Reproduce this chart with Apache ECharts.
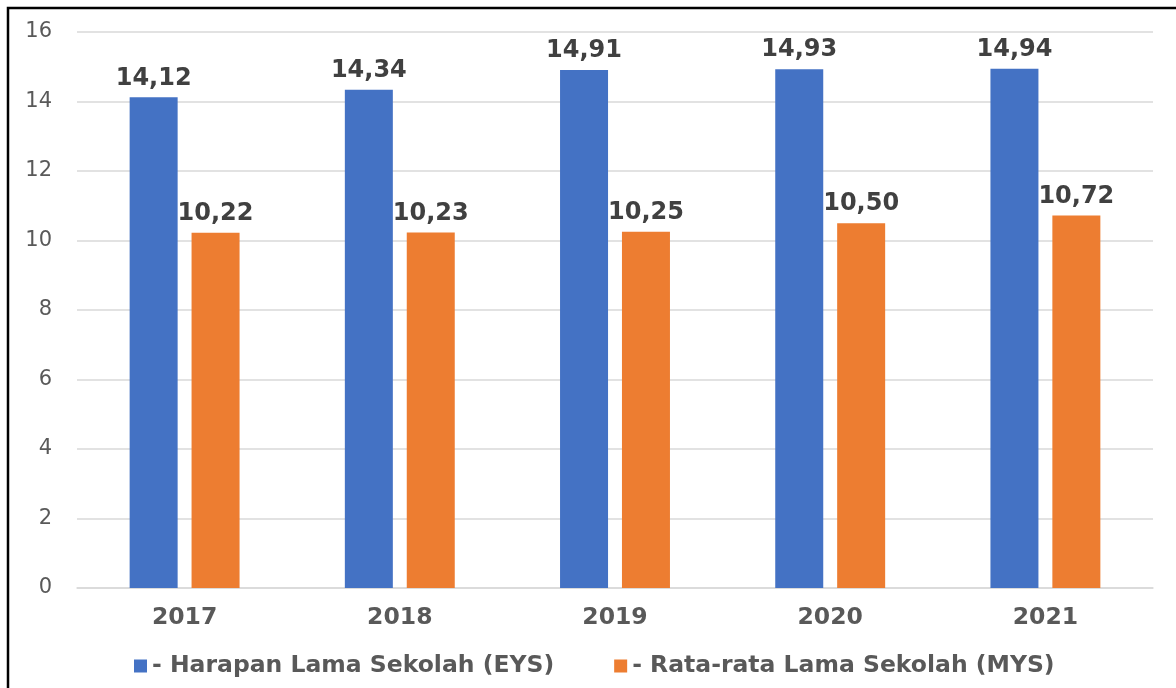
<!DOCTYPE html>
<html>
<head>
<meta charset="utf-8">
<script src="https://cdn.jsdelivr.net/npm/echarts@6/dist/echarts.min.js"></script>
<style>
  html, body { margin: 0; padding: 0; background: #fff; }
  #chart { width: 1176px; height: 688px; }
</style>
</head>
<body>
<div id="chart"></div>
<script>
const years = ['2017', '2018', '2019', '2020', '2021'];
const eys = [14.12, 14.34, 14.91, 14.93, 14.94];
const mys = [10.22, 10.23, 10.25, 10.50, 10.72];
const seriesNames = ['- Harapan Lama Sekolah (EYS)', '- Rata-rata Lama Sekolah (MYS)'];

const chart = echarts.init(document.getElementById('chart'));

// angka pakai koma desimal
const fmt = p => p.value.toFixed(2).replace('.', ',');

const labelStyle = {
    show: true,
    position: 'top',
    distance: 7,
    formatter: fmt,
    fontFamily: 'DejaVu Sans',
    fontWeight: 'bold',
    fontSize: 24,
    color: '#404040'
};

const option = {
    backgroundColor: '#fff',
    animation: false,
    textStyle: { fontFamily: 'DejaVu Sans' },
    graphic: [{
        type: 'rect',
        shape: { x: 8, y: 8, width: 1200, height: 700 },
        style: { fill: 'none', stroke: '#000', lineWidth: 2.5 }
    }],
    grid: { left: 77, right: 23, top: 32, bottom: 100 },
    legend: {
        left: 129,
        top: 649,
        itemWidth: 13,
        itemHeight: 13,
        itemGap: 60,
        icon: 'rect',
        textStyle: {
            fontFamily: 'DejaVu Sans',
            fontWeight: 'bold',
            fontSize: 23.5,
            color: '#595959'
        },
        data: seriesNames
    },
    xAxis: {
        type: 'category',
        data: years,
        axisTick: { show: false },
        axisLine: { lineStyle: { color: '#d9d9d9', width: 1.5 } },
        axisLabel: {
            margin: 18,
            fontFamily: 'DejaVu Sans',
            fontWeight: 'bold',
            fontSize: 23.5,
            color: '#595959'
        }
    },
    yAxis: {
        type: 'value',
        min: 0,
        max: 16,
        interval: 2,
        axisLine: { show: false },
        axisTick: { show: false },
        axisLabel: {
            margin: 25,
            fontFamily: 'DejaVu Sans',
            fontSize: 21,
            color: '#595959'
        },
        splitLine: { lineStyle: { color: '#d9d9d9', width: 1.5 } }
    },
    series: [
        {
            name: seriesNames[0],
            type: 'bar',
            data: eys,
            barWidth: 48,
            barGap: '29%',
            itemStyle: { color: '#4472C4' },
            label: labelStyle
        },
        {
            name: seriesNames[1],
            type: 'bar',
            data: mys,
            barWidth: 48,
            itemStyle: { color: '#ED7D31' },
            label: labelStyle
        }
    ]
};

chart.setOption(option);
</script>
</body>
</html>
